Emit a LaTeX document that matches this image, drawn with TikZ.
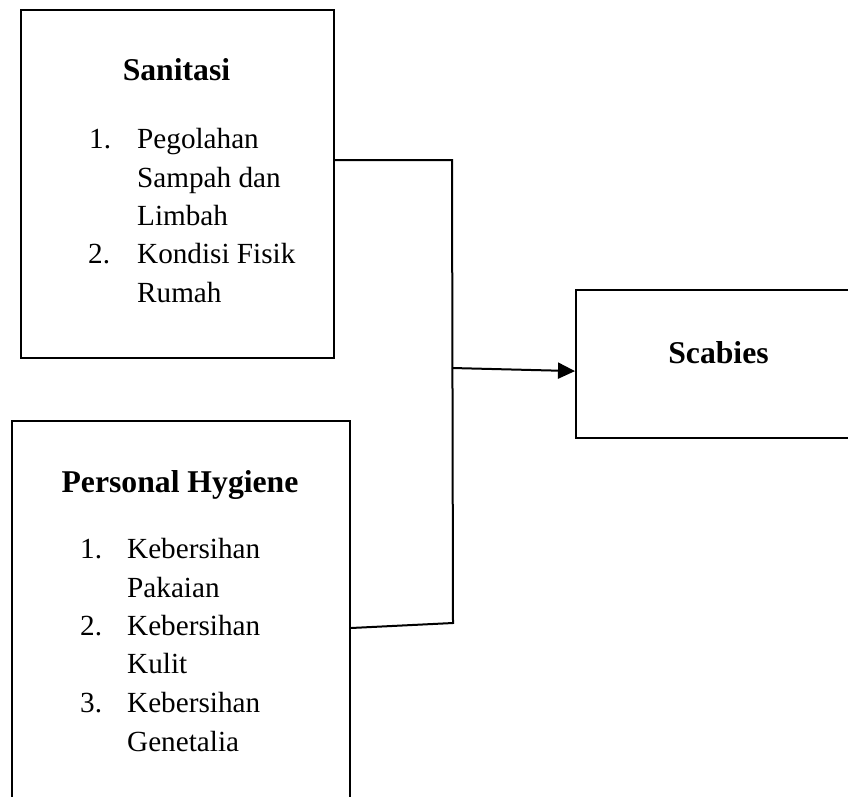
\documentclass[tikz,border=0pt]{standalone}
\usepackage{fontspec}
\setmainfont{Liberation Serif}
\usetikzlibrary{arrows.meta,calc}

\tikzset{
  box/.style={draw, line width=2.2pt, anchor=north west, inner sep=0pt},
  head/.style={font=\fontsize{31.7}{38.5}\selectfont\bfseries, anchor=base, inner sep=0pt},
  item/.style={font=\fontsize{29.2}{38.5}\selectfont, anchor=base west, inner sep=0pt},
  link/.style={line width=2pt}
}

\begin{document}
\begin{tikzpicture}[x=1pt, y=-1pt]
\useasboundingbox (0,0) rectangle (848,797);
\clip (0,0) rectangle (848,797);

\node[box, minimum width=313pt, minimum height=348pt] (sanitasi) at (20,9) {};
\node[box, minimum width=338pt, minimum height=420pt] (hygiene) at (11,420) {};
\node[box, minimum width=287pt, minimum height=148pt] (scabies) at (575,289) {};

% Sanitasi
\node[head] (sanhead) at (176.5,81) {Sanitasi};
\node[item] (sannum1) at (89,148) {1.};
\node[item] (sanitem1) at (137,148) {Pegolahan};
\node[item] (sanitem1b) at (137,187) {Sampah dan};
\node[item] (sanitem1c) at (137,225) {Limbah};
\node[item] (sannum2) at (88,263) {2.};
\node[item] (sanitem2) at (137,263) {Kondisi Fisik};
\node[item] (sanitem2b) at (137,302) {Rumah};

% Personal Hygiene
\node[head] (hyghead) at (180,492) {Personal Hygiene};
\node[item] (hygnum1) at (80,558) {1.};
\node[item] (hygitem1) at (127,558) {Kebersihan};
\node[item] (hygitem1b) at (127,597) {Pakaian};
\node[item] (hygnum2) at (80,635) {2.};
\node[item] (hygitem2) at (127,635) {Kebersihan};
\node[item] (hygitem2b) at (127,673) {Kulit};
\node[item] (hygnum3) at (80,712) {3.};
\node[item] (hygitem3) at (127,712) {Kebersihan};
\node[item] (hygitem3b) at (127,751) {Genetalia};

% Scabies
\node[head] (scahead) at (718.5,363) {Scabies};

% connectors
\coordinate (jtop) at (452,160);
\coordinate (jmid) at (452,368);
\coordinate (jbot) at (453,623);
\draw[link] (sanitasi.east |- jtop) -- (jtop) -- (jbot)
  -- ($(hygiene.east |- jbot)+(0,5)$);
\draw[link, -{Triangle[length=17pt,width=16pt]}] (jmid) -- ($(scabies.west)+(0,7)$);
\end{tikzpicture}
\end{document}
